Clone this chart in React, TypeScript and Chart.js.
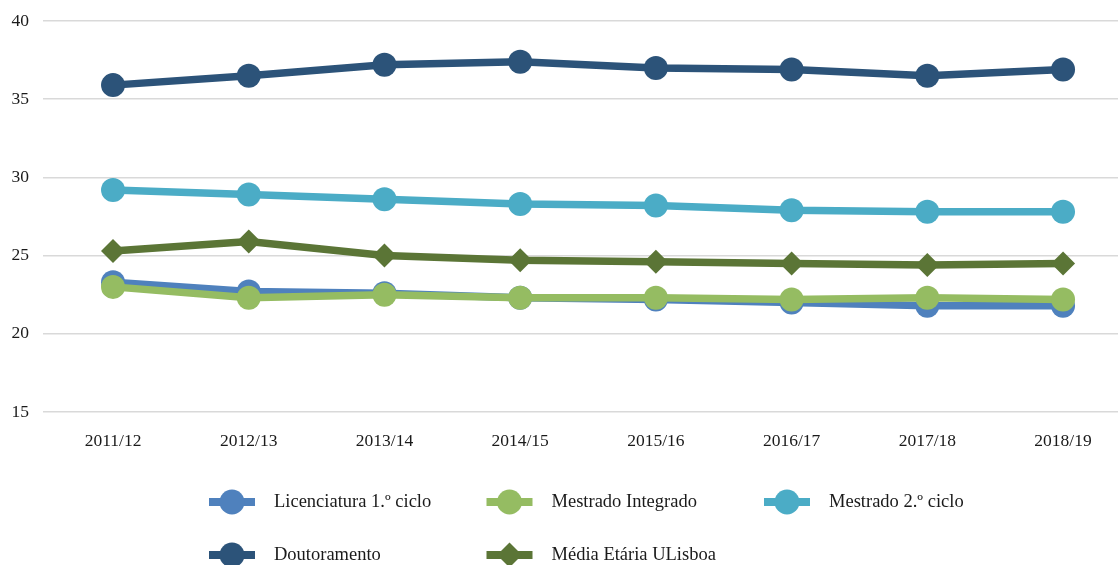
import React, { useEffect, useRef } from 'react';
import { Chart, registerables } from 'chart.js';

Chart.register(...registerables);

const categories = ['2011/12', '2012/13', '2013/14', '2014/15', '2015/16', '2016/17', '2017/18', '2018/19'];
const licenciatura = [23.3, 22.7, 22.6, 22.3, 22.2, 22.0, 21.8, 21.8];
const mestradoIntegrado = [23.0, 22.3, 22.5, 22.3, 22.3, 22.2, 22.3, 22.2];
const mestrado2 = [29.2, 28.9, 28.6, 28.3, 28.2, 27.9, 27.8, 27.8];
const doutoramento = [35.9, 36.5, 37.2, 37.4, 37.0, 36.9, 36.5, 36.9];
const mediaUL = [25.3, 25.9, 25.0, 24.7, 24.6, 24.5, 24.4, 24.5];
const yTicks = [15, 20, 25, 30, 35, 40];

const seriesNames = ['Licenciatura 1.º ciclo', 'Mestrado Integrado', 'Mestrado 2.º ciclo', 'Doutoramento', 'Média Etária ULisboa'];
const seriesValues = [licenciatura, mestradoIntegrado, mestrado2, doutoramento, mediaUL];
const seriesColors = ['#4F81BD', '#95BC62', '#4BACC6', '#2C5379', '#5B7536'];
const seriesPoint = ['circle', 'circle', 'circle', 'circle', 'rectRot'];
const seriesOrder = [5, 4, 3, 2, 1];

const FONT = '"Liberation Serif", "Times New Roman", serif';

const gridLegend = {
  id: 'gridLegend',
  afterDraw(chart: any) {
    const opts = chart.options.plugins.gridLegend;
    const ctx = chart.ctx;
    chart.data.datasets.forEach((ds: any, i: number) => {
      const col = i % 3;
      const row = Math.floor(i / 3);
      const cx = opts.colStart + col * opts.colGap;
      const cy = opts.rowY[row];
      ctx.save();
      ctx.strokeStyle = ds.borderColor;
      ctx.lineWidth = opts.lineWidth;
      ctx.lineCap = 'butt';
      ctx.beginPath();
      ctx.moveTo(cx - opts.lineHalf, cy);
      ctx.lineTo(cx + opts.lineHalf, cy);
      ctx.stroke();
      ctx.fillStyle = ds.borderColor;
      ctx.beginPath();
      const r = opts.radius;
      if (ds.pointStyle === 'rectRot') {
        ctx.moveTo(cx - r, cy);
        ctx.lineTo(cx, cy - r);
        ctx.lineTo(cx + r, cy);
        ctx.lineTo(cx, cy + r);
        ctx.closePath();
      } else {
        ctx.arc(cx, cy, r, 0, Math.PI * 2);
      }
      ctx.fill();
      ctx.fillStyle = opts.color;
      ctx.font = `${opts.fontSize}px ${FONT}`;
      ctx.textBaseline = 'middle';
      ctx.textAlign = 'left';
      ctx.fillText(ds.label, cx + opts.textOffset, cy);
      ctx.restore();
    });
  },
};

export default function App() {
  const ref = useRef<HTMLCanvasElement | null>(null);

  useEffect(() => {
    if (!ref.current) return;
    const chart = new Chart(ref.current, {
      type: 'line',
      data: {
        datasets: seriesNames.map((name, k) => ({
          label: name,
          data: seriesValues[k].map((y, i) => ({ x: i, y })),
          borderColor: seriesColors[k],
          backgroundColor: seriesColors[k],
          pointBackgroundColor: seriesColors[k],
          pointBorderColor: seriesColors[k],
          pointBorderWidth: 0,
          pointStyle: seriesPoint[k] as any,
          pointRadius: 12,
          borderWidth: 7.5,
          tension: 0,
          fill: false,
          clip: false as any,
          order: seriesOrder[k],
        })),
      },
      plugins: [gridLegend as any],
      options: {
        responsive: false,
        animation: false,
        layout: { autoPadding: false, padding: { top: 21, left: 0, right: 0, bottom: 0 } },
        scales: {
          x: {
            type: 'linear',
            min: -0.516,
            max: 7.405,
            grid: { display: false, drawTicks: false },
            border: { display: false },
            afterBuildTicks: (scale: any) => {
              scale.ticks = categories.map((_, i) => ({ value: i }));
            },
            afterFit: (scale: any) => {
              scale.height = 153;
              scale.paddingLeft = 0;
              scale.paddingRight = 0;
            },
            ticks: {
              autoSkip: false,
              maxRotation: 0,
              padding: 19,
              color: '#1a1a1a',
              font: { family: FONT, size: 17.5 },
              callback: (v: any) => categories[Math.round(Number(v))] ?? '',
            },
          },
          y: {
            type: 'linear',
            min: 15,
            max: 40,
            afterBuildTicks: (scale: any) => {
              scale.ticks = yTicks.map((v) => ({ value: v }));
            },
            afterFit: (scale: any) => {
              scale.width = 43;
              scale.paddingTop = 0;
              scale.paddingBottom = 0;
            },
            grid: { color: '#d9d9d9', lineWidth: 1.5, drawTicks: false },
            border: { display: false },
            ticks: {
              padding: 14,
              color: '#1a1a1a',
              font: { family: FONT, size: 17.5 },
            },
          },
        },
        plugins: {
          legend: { display: false },
          tooltip: { enabled: false },
          gridLegend: {
            colStart: 232,
            colGap: 277.5,
            rowY: [502, 555],
            lineWidth: 8,
            lineHalf: 23,
            radius: 12.5,
            textOffset: 42,
            fontSize: 18.5,
            color: '#1a1a1a',
          },
        } as any,
      },
    });
    return () => chart.destroy();
  }, []);

  return (
    <div style={{ position: 'absolute', left: 0, top: 0, width: 1118, height: 565, background: '#fff' }}>
      <canvas ref={ref} width={1118} height={565} style={{ display: 'block' }} />
    </div>
  );
}
